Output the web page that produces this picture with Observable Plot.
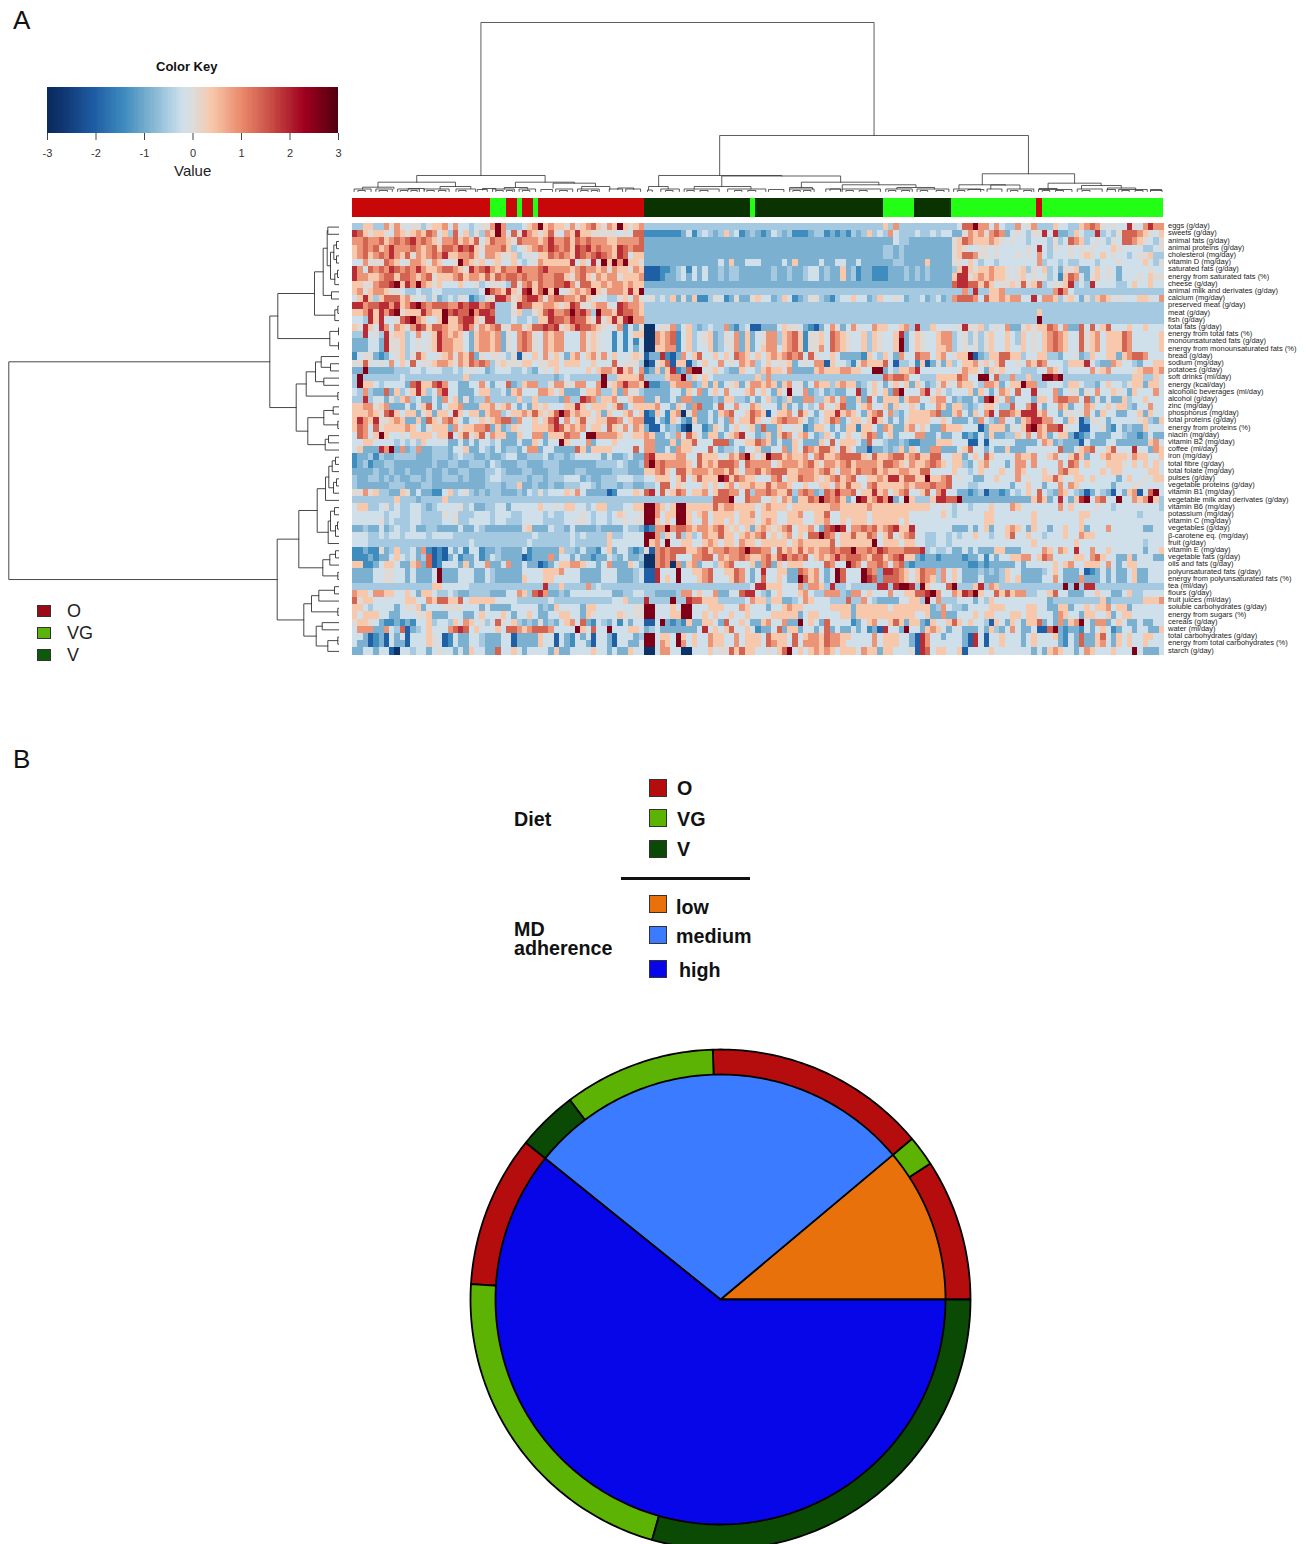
<!DOCTYPE html>
<html><head><meta charset="utf-8">
<script src="https://cdn.jsdelivr.net/npm/d3@7"></script>
<script src="https://cdn.jsdelivr.net/npm/@observablehq/plot@0.6"></script>
<style>
html,body{margin:0;padding:0;background:#fff;overflow:hidden}
#chart{position:relative;width:1306px;height:1544px;overflow:hidden;font-family:"Liberation Sans",Arial,sans-serif;color:#111}
#chart svg{overflow:hidden;background:transparent}
</style></head><body><div id="chart"></div>
<script>
const foods=["eggs (g/day)","sweets (g/day)","animal fats (g/day)","animal proteins (g/day)","cholesterol (mg/day)","vitamin D (mg/day)","saturated fats (g/day)","energy from saturated fats (%)","cheese (g/day)","animal milk and derivates (g/day)","calcium (mg/day)","preserved meat (g/day)","meat (g/day)","fish (g/day)","total fats (g/day)","energy from total fats (%)","monounsaturated fats (g/day)","energy from monounsaturated fats (%)","bread (g/day)","sodium (mg/day)","potatoes (g/day)","soft drinks (ml/day)","energy (kcal/day)","alcoholic beverages (ml/day)","alcohol (g/day)","zinc (mg/day)","phosphorus (mg/day)","total proteins (g/day)","energy from proteins (%)","niacin (mg/day)","vitamin B2 (mg/day)","coffee (ml/day)","iron (mg/day)","total fibre (g/day)","total folate (mg/day)","pulses (g/day)","vegetable proteins (g/day)","vitamin B1 (mg/day)","vegetable milk and derivates (g/day)","vitamin B6 (mg/day)","potassium (mg/day)","vitamin C (mg/day)","vegetables (g/day)","β-carotene eq. (mg/day)","fruit (g/day)","vitamin E (mg/day)","vegetable fats (g/day)","oils and fats (g/day)","polyunsaturated fats (g/day)","energy from polyunsaturated fats (%)","tea (ml/day)","flours (g/day)","fruit juices (ml/day)","soluble carbohydrates (g/day)","energy from sugars (%)","cereals (g/day)","water (ml/day)","total carbohydrates (g/day)","energy from total carbohydrates (%)","starch (g/day)"];

// Heatmap readings: one symbol per subject, O cluster | V cluster | VG cluster
const levelCodes="0123456789ab";
const levelValues=[-2.8,-2,-1.4,-0.9,-0.55,-0.2,0.05,0.4,0.9,1.4,1.9,2.6];
const heatRows=[
"44774 48686 56646 77858 55456 68b84 44578 b7877 68678 97687 b7678|44444 44444 44444 44444 44444 44444 44444 44444 44444 74844 44444 444|4599b 88585 44856 84447 55447 89865 655a6 58a88",
"a9767 76587 67879 85749 57464 87b85 96a87 67965 87a77 66666 56599|22222 22352 45434 74523 43235 43422 23442 32324 34745 48544 45445 455|33687 86898 35654 66a5a 33475 44a45 46999 87657",
"88988 97898 9a898 76889 78795 79887 69888 78a88 97989 88877 88889|33333 33333 33333 33333 33333 33333 33333 33333 33333 33544 33333 333|67987 77876 56554 55546 45987 45654 65998 76546",
"78989 78a88 89878 97998 a9a76 88897 45678 98a98 97a9a 89887 a9899|33333 33333 33333 33333 33333 33333 33333 33333 33333 44343 33333 333|67655 66565 55556 5a546 55656 56555 76555 54456",
"78978 98a87 96878 98a77 88975 88766 74565 77989 87a98 9a987 a9577|33333 33333 33333 33333 33333 33333 33333 33333 33333 44343 33333 333|67998 66565 55656 58545 55656 76575 65545 66744",
"55866 69875 68876 87556 b8767 56755 75456 87777 7a575 a6b7b 8b776|33333 33333 33335 37335 55333 35373 33353 35533 53333 33443 33373 333|66575 45545 55555 58455 45445 55455 56555 57546",
"a8598 98a98 98a87 78998 76a89 a8798 8a888 9a888 87898 87868 77687|11122 34525 35334 34433 33334 33433 45534 33734 23322 23334 34343 333|47a76 77877 65674 65745 36673 35756 53555 55655",
"a8877 89979 98789 67778 97887 97989 98988 98899 76897 68788 67778|11123 34535 35334 34433 33334 33433 45534 33734 23322 23334 34343 333|7aa67 87877 65675 65645 27985 36756 53555 65766",
"77668 99ab7 a8b87 67555 75564 56654 96897 98899 a8699 77878 87877|33333 33333 33333 33333 33333 33333 33333 33333 33333 33333 33333 333|9aa99 79756 67696 79456 67a45 4a555 54457 55755",
"78678 87665 44544 55444 44445 b987a 76ab7 9b7b5 67878 b7688 87a7b|44444 44444 44444 44444 44444 44444 44444 44444 44444 44444 44444 444|4484a 44778 44444 44448 a8544 44444 44444 44444",
"57a74 79997 86564 63454 65234 66aa8 679aa 86899 88797 65544 67586|56454 73637 22465 23633 67553 47523 46643 24557 55347 55653 44534 534|89998 59778 78855 a5887 46753 64787 56555 77658",
"aa899 aa8a7 8ab98 99988 a9aa8 9a444 6a997 78876 7a965 78865 a9887|44444 44444 44444 44444 44444 44444 44444 44444 44444 44444 44444 444|44444 44444 44444 44444 44444 44444 44444 44444",
"778a7 a8ab6 777a8 77b9a 99b8a a9444 67446 79a88 9b9a8 4b887 a9987|44444 44444 44444 44444 44444 44444 44444 44444 44444 44444 44444 444|44444 44444 44444 47444 44444 44444 44444 44444",
"554a7 a5569 ab875 57b77 9aa76 aa444 54454 77a99 8a997 6a67a 7ab88|44444 44444 44444 44444 44444 44444 44444 44444 44444 44444 44444 444|44444 44444 44444 4b444 44444 44444 44444 44444",
"76a75 a8587 68a97 99877 8a868 78966 88679 9a9a6 78a99 87656 82536|00566 83574 34544 83245 11333 57665 32135 86358 65587 75578 4a447 5|56a66 74565 83367 67798 58339 59579 55575 57555",
"44a56 4a677 45856 7a878 75378 87836 58986 58788 55586 76552 5257|00878 92574 56734 65837 35688 47897 26675 98765 57476 557a3 57655 788|45646 46755 75475 65789 87559 67857 77985 55557",
"33355 3a667 45656 7a887 75378 87836 58986 58788 55586 76552 52525|00878 92574 56734 66837 35688 47897 26675 98765 57476 557b3 57655 788|45646 46755 75475 65789 87559 67857 77985 55557",
"33355 3a667 45656 7a887 75378 87836 58986 58788 55586 76552 52535|00778 82574 55734 56837 35788 57897 26685 98765 57476 557b3 57655 778|45656 46755 75575 65789 87559 67857 77985 55557",
"25663 23567 46975 56786 87936 56654 61657 58675 37857 86857 55676|13 3a2 13857 95575 75987 57578 78989 59655 75333 32754 75385 59885 785|677b1 34779 97745 57744 35563 47557 73789 98555",
"66965 65857 59566 78876 87989 84676 66775 66775 77755 75559 56664|01679 17714 57558 56587 84575 66735 65881 75542 68777 95144 52713 637|45778 67579 55658 79855 54777 a5433 87554 35577",
"33b33 33344 45545 55445 45655 34555 44543 56575 55557 57887 a7858|23737 a2 39b b5675 43375 54787 76833 33787 77887 755bb 35477 8a555 55|56877 53767 55544 45587 54555 58678 55556 78878",
"4b444 44445 44444 44444 47444 44444 44444 44434 54444 44b44 77779|44447 88b47 57544 44444 47484 44444 44444 44444 44444 98998 55444 777|79855 bb594 48447 44bba b4444 44444 44447 74475",
"4b775 45555 39a77 9a855 33558 53559 34788 44688 66885 58b67 8a887|b2233 78883 47373 56736 88787 37856 35877 47877 34575 35757 37534 686|58775 48873 577b8 84455 54775 44357 55467 73775",
"54843 39374 57a74 58a55 33357 74453 78555 88757 33357 78447 38664|33333 55375 83575 85557 85753 75b55 83453 43355 a3575 739b5 558a5 754|55573 75358 75955 a5558 35663 65855 76537 55585",
"44a45 53647 84533 53857 36344 84444 47447 44443 844a9 84778 5578|33633 53883 33343 77443 53574 34733 88447 8583 37395 37773 78855 7885|34335 3ab75 83555 377 58 9988 59363 53374 55755",
"7 7 8 8 6 7 8 3 3 3 5 3 5 7 9 5 3 5 7 7 8 3 3 3 7 7 8 6 7 8 5 3 5 3 7 6 7 5 5 5 7 7 a 7 5 7 7 7 5 7 9 3 5 7 7|7 7 8 5 5 3 7 5 3 8 9 3 3 5 9 5 5 8 5 5 8 7 5 5 5 3 7 3 5 3 5 4 5 8 6 5 7 9 3 3 5 7 8 5 5 7 3 7 5 5 7 5 3 5 5 8 7 3|7 7 4 3 4 5 7 7 5 4 4 9 5 5 8 a 5 3 5 5 8 7 3 5 5 8 7 5 5 7 5 7 7 4 3 5 5 8 5 5",
"7 7 7 8 7 6 9 a 7 5 7 7 3 6 7 3 7 7 5 a 7 5 7 7 3 7 8 8 4 5 7 7 8 7 9 7 6 7 9 b 9 7 8 7 7 5 7 3 7 5 5 7 8 5 7|1 2 7 5 2 7 8 0 6 8 3 3 5 3 7 8 9 5 5 7 9 8 7 1 5 7 7 8 5 9 7 5 3 5 7 7 a 7 8 7 5 3 7 8 9 5 8 4 3 5 7 7 7 7 8 9 3 3|7 8 5 3 7 5 8 a 5 9 9 8 7 a a a 7 8 5 5 3 6 6 5 6 8 5 3 7 5 5 3 3 5 5 7 3 7 5 5",
"7 a 8 7 a 6 6 7 8 7 3 3 7 3 9 7 6 8 9 7 5 3 5 5 7 6 7 8 9 9 3 8 5 5 7 5 7 9 a 5 8 5 7 9 6 6 7 7 9 9 8 5 7 8 8|1 1 5 3 2 7 5 3 2 7 3 3 5 3 5 3 8 5 7 7 9 7 5 5 7 8 9 8 8 7 5 3 4 5 7 9 8 3 5 7 7 5 7 a 7 5 3 5 3 6 7 7 7 7 5 5 7 5|3 3 3 5 3 8 5 4 3 8 5 5 3 7 8 a a 8 8 5 5 3 7 6 1 3 6 6 5 3 5 5 5 5 5 6 7 4 3 7",
"7 9 8 5 9 6 7 7 7 7 8 7 5 3 6 7 7 7 3 8 6 7 7 8 8 9 3 7 3 4 7 6 5 5 7 7 7 8 a 9 7 8 7 8 5 7 7 5 9 7 6 8 5 8 7|3 1 1 5 3 4 3 1 0 5 5 2 3 7 5 3 5 7 5 6 7 3 9 3 3 7 5 5 6 6 2 3 7 7 5 3 5 3 7 7 2 7 7 5 3 8 7 3 3 7 8 5 7 5 3 3 8 7|7 7 5 5 5 1 3 7 7 7 3 6 5 7 a b 8 7 9 9 a 6 5 5 1 1 5 5 6 3 2 5 3 4 3 3 7 5 5 5",
"5 9 8 5 7 b 7 5 5 6 5 7 7 7 7 5 7 7 a 5 7 9 6 7 9 5 8 7 7 3 3 7 5 5 8 8 3 7 7 7 9 8 8 5 b b 8 8 8 8 7 5 6 7 7|8 7 3 3 5 4 8 5 9 7 5 3 7 7 3 5 7 8 a 5 5 3 4 7 3 7 9 8 5 7 8 5 3 4 7 5 3 5 7 5 5 7 9 8 3 5 7 3 5 5 5 8 8 3 3 5 3 3|5 5 2 3 2 5 3 7 3 3 4 4 7 5 8 5 8 7 3 5 7 7 3 1 2 3 5 3 3 3 5 5 4 3 3 2 3 5 3 3",
"5 5 7 7 5 5 5 5 4 5 4 5 4 7 5 5 5 5 3 3 5 3 5 3 5 5 4 5 3 3 3 5 3 3 7 5 3 5 5 b 7 5 5 5 8 3 5 5 5 7 5 5 5 5 5|8 8 3 3 3 7 3 7 7 9 5 5 5 9 9 9 3 5 5 7 7 9 8 7 3 5 3 3 7 5 3 3 3 7 5 9 5 7 7 7 5 3 9 5 5 4 3 3 4 3 2 2 3 3 3 7 7 7|5 5 5 1 1 5 1 5 5 5 5 5 3 3 3 3 5 8 7 3 4 3 3 3 1 5 3 3 3 5 5 3 3 3 3 3 3 7 8 5",
"5 7 3 3 3 a 8 b 3 8 3 4 8 3 3 4 4 4 3 5 5 7 3 3 5 4 3 5 3 4 4 3 5 8 8 3 5 5 3 3 3 3 9 7 3 7 7 7 7 5 5 5 5 9 5|8 8 3 3 5 3 8 7 7 5 5 5 9 5 3 4 4 5 3 5 5 7 3 3 5 5 8 3 7 5 9 8 7 9 9 7 5 9 7 5 3 3 1 3 3 4 3 4 7 3 7 5 3 3 8 8 3 3|3 5 7 9 5 5 3 5 3 3 7 3 3 3 5 5 5 5 5 5 9 3 3 5 7 8 9 5 5 7 9 5 5 5 a 5 5 3 8 7",
"2 3 3 4 2 4 3 3 4 4 4 4 3 3 3 4 4 4 3 4 5 4 4 3 3 4 3 3 4 5 5 3 3 4 4 4 5 3 4 4 3 4 5 5 5 5 5 3 5 3 3 4 5 3 3|9 a 7 7 7 7 8 8 5 5 9 7 7 7 5 6 8 7 9 b 7 5 7 b 9 9 7 8 7 7 8 5 8 9 7 7 8 9 9 9 9 7 6 9 7 7 8 9 9 7 8 9 7 7 9 9 5 5|7 7 3 5 7 5 9 7 5 5 5 5 8 7 7 8 5 5 7 8 5 5 7 9 7 3 5 5 7 8 7 7 7 6 8 7 7 5 5 7",
"2 3 4 2 3 3 4 4 3 3 3 3 3 3 3 4 3 3 4 4 3 3 4 4 4 3 5 4 3 3 3 4 4 3 3 3 4 4 4 3 3 3 3 3 3 3 4 4 4 4 5 4 3 3 4|9 b 8 9 8 8 8 8 7 5 9 7 8 7 9 9 9 8 5 9 8 8 8 8 5 7 8 8 8 7 8 9 7 6 8 8 7 8 9 7 8 8 8 8 7 9 9 8 7 6 8 7 7 8 9 8 7 5|7 7 4 3 5 7 8 5 5 5 3 5 8 8 5 8 5 5 5 5 8 5 9 8 5 7 5 5 5 7 7 7 6 5 7 5 7 5 7 5",
"3 3 3 3 4 3 3 4 3 3 4 3 3 3 4 3 3 4 3 3 4 4 3 3 3 4 4 5 4 3 3 3 4 4 3 3 3 4 4 3 3 3 4 4 3 3 3 3 3 4 4 4 3 3 3|7 7 8 9 7 5 9 9 7 8 8 8 7 8 8 7 9 7 5 8 8 9 7 8 9 9 9 7 7 8 8 8 7 8 9 7 5 8 8 7 9 8 8 9 7 8 7 7 8 8 7 7 9 9 5 5 5 5|7 5 5 4 5 7 5 5 5 7 5 5 8 7 5 5 5 7 5 5 8 9 7 7 5 5 5 5 7 5 7 7 5 5 5 5 5 7 7 5",
"4 3 3 4 4 3 4 3 4 3 3 4 4 3 4 3 3 4 4 4 3 4 3 3 3 4 5 5 4 4 4 4 4 3 4 4 3 4 4 4 5 5 5 3 4 3 3 4 4 4 5 5 5 4 4|5 5 7 7 7 5 7 9 5 7 9 7 7 7 b a 7 9 8 7 7 5 5 5 8 9 5 7 7 9 8 8 7 6 7 8 9 7 8 9 5 5 7 7 8 7 a a 7 9 9 7 7 b 7 7 8 9|5 6 5 5 3 3 5 5 7 5 5 5 8 5 6 5 5 7 7 9 7 5 5 7 7 5 7 5 5 5 5 3 5 7 5 5 6 5 7 7",
"4 3 3 3 3 3 3 4 4 4 3 3 3 4 4 3 3 3 3 3 3 3 3 3 3 4 4 4 3 4 4 7 3 3 4 3 3 4 3 3 4 4 4 5 5 4 3 4 4 4 3 4 4 3 3|4 4 5 9 9 5 7 6 5 5 5 7 5 7 5 7 8 5 7 7 8 7 7 9 7 8 8 7 5 5 7 5 5 7 7 5 8 7 9 7 7 5 8 9 7 7 7 7 7 8 7 8 8 8 9 8 8 9|5 5 5 4 4 5 5 5 5 5 5 3 5 5 7 5 5 3 5 5 8 5 8 7 5 5 5 5 5 5 3 5 5 5 6 6 5 5 5 5",
"6 6 8 6 7 4 4 3 3 7 6 3 5 3 3 2 2 5 7 4 5 6 4 3 4 3 4 4 3 3 3 4 3 5 4 6 4 5 5 5 7 6 8 5 3 3 3 3 1 2 5 5 5 7 6|9 a 5 9 6 7 9 8 5 7 7 8 5 7 9 9 8 8 5 9 4 8 8 9 8 7 7 9 4 8 9 8 3 4 9 8 a 8 8 9 5 7 7 a 7 8 5 7 8 9 5 5 7 9 5 8 a 5|5 3 3 2 3 4 1 3 3 2 3 5 4 5 7 5 9 5 4 3 8 7 5 4 3 1 3 5 4 3 1 5 3 7 8 1 5 9 b 5",
"4 4 4 4 4 4 4 4 7 4 4 4 3 4 4 4 4 7 4 4 4 4 4 4 4 4 4 4 4 4 4 4 4 4 4 4 4 4 4 4 4 4 4 4 4 4 4 4 4 4 4 4 4 4 4|4 4 4 4 4 4 4 4 4 4 4 4 4 9 9 9 b 5 5 9 8 8 5 5 7 5 8 7 3 7 7 9 8 b 9 8 9 7 3 5 b a 7 8 a 8 b 3 5 b 7 4 4 4 7 a a 9|9 b 3 3 3 3 3 3 3 3 3 3 3 3 3 7 9 7 3 5 a 5 3 7 a b 5 8 9 5 5 b 5 5 8 7 8 b 7 4",
"5 7 7 4 4 5 6 4 5 4 4 5 5 4 3 4 5 5 5 5 6 4 5 3 3 4 4 5 5 3 5 5 5 5 5 7 5 5 6 5 7 7 5 5 4 5 7 7 4 4 4 5 5 7 7|b b 8 7 5 7 b b 7 7 7 7 7 9 7 8 8 7 7 7 7 5 7 8 7 7 7 5 7 7 7 7 7 7 7 8 8 7 7 7 7 7 8 7 7 7 7 7 7 7 7 7 7 7 5 5 6 5|4 5 5 4 5 5 5 7 5 5 5 8 7 5 5 5 5 5 5 5 8 5 7 5 5 5 5 6 5 5 4 5 5 5 5 5 5 5 5 4",
"5 5 5 5 5 5 4 5 5 4 4 5 5 4 4 4 4 6 5 6 4 4 4 5 5 5 4 5 5 5 4 4 5 5 5 5 4 5 4 4 5 5 5 6 5 4 5 5 4 5 7 6 5 5 6|b b 8 5 7 7 b b 7 5 7 8 5 7 7 7 7 5 7 7 8 5 7 7 7 5 5 7 7 8 5 5 7 7 9 5 5 7 7 7 7 7 5 7 7 7 7 7 7 7 5 5 5 5 5 5 7 5|4 5 5 5 5 5 7 7 5 5 5 5 5 5 5 7 5 5 5 5 5 5 5 5 7 7 5 5 5 5 5 5 5 5 5 4 5 5 5 5",
"5 5 5 5 5 6 4 5 4 4 4 5 5 4 4 4 4 5 5 6 4 4 5 5 5 5 4 5 5 4 4 4 5 5 5 5 4 4 4 4 5 5 6 6 5 4 5 5 4 5 5 6 5 6 6|b b 7 5 7 5 b b 7 5 5 8 5 7 7 5 7 5 7 7 7 5 7 8 7 5 5 7 7 7 5 5 7 7 8 5 5 7 5 7 7 7 5 7 7 7 7 7 5 7 5 5 5 5 5 5 5 5|5 5 5 5 5 5 7 7 5 5 5 5 5 5 5 7 5 5 5 5 5 5 5 5 7 5 5 5 5 5 5 5 5 5 5 5 5 5 5 5",
"3 3 4 3 3 5 3 4 5 4 4 5 3 3 4 4 3 3 3 3 5 3 3 5 4 3 3 3 3 3 3 3 6 7 3 3 3 5 4 4 3 5 3 3 3 3 4 3 3 3 3 5 4 4 3|1 2 8 8 b 8 9 9 8 7 8 8 7 8 9 7 6 7 5 7 3 7 8 7 6 7 8 9 5 7 7 8 5 3 9 a b a 5 8 8 9 8 9 7 8 9 a 7 7 a 5 5 5 5 5 5 5|3 3 3 5 3 5 7 3 5 5 7 8 7 5 3 7 5 5 3 5 5 7 5 5 7 3 5 5 5 8 5 5 5 5 5 5 3 3 5 5",
"5 5 5 4 4 5 4 5 5 4 5 5 5 5 4 5 5 5 5 4 4 4 4 4 4 4 4 4 4 4 4 4 4 4 5 4 4 4 4 4 4 5 4 5 4 4 4 4 7 4 4 5 5 5 5|b b 8 4 7 5 9 4 7 4 5 8 7 7 9 7 7 5 7 8 7 8 9 5 7 5 7 8 5 7 5 9 9 b 9 8 5 7 7 9 7 7 9 8 5 7 9 5 7 8 9 5 5 4 4 5 5 4|5 4 5 5 7 5 5 4 5 5 7 9 5 5 7 5 5 4 5 5 5 7 5 5 8 7 7 5 5 5 5 5 5 5 5 5 5 5 5 5",
"5 5 5 4 4 4 4 4 4 4 4 4 4 4 4 4 4 4 4 4 4 4 5 4 4 4 4 4 4 4 4 4 4 5 4 4 4 4 4 4 4 5 4 4 4 4 4 4 7 5 5 5 5 5 5|b 7 8 5 b 5 5 7 7 5 5 7 8 7 5 7 7 5 8 7 7 5 7 7 7 7 7 5 7 8 7 7 7 7 7 9 5 7 7 7 7 7 7 b 5 7 7 7 5 7 7 5 5 4 4 5 5 4|5 5 5 5 5 5 5 5 5 5 5 5 5 5 5 7 5 5 5 5 5 5 5 7 5 5 5 5 5 5 5 5 5 5 5 5 4 5 5 5",
"2 2 3 2 2 6 3 4 7 4 4 5 3 8 2 1 2 1 5 3 5 2 5 5 2 3 3 4 3 3 3 3 5 2 3 3 3 3 3 7 4 4 3 5 3 3 2 5 7 3 5 5 3 2 3|6 1 8 9 8 9 9 9 7 7 8 9 7 8 8 9 8 8 9 b 9 9 8 8 5 9 7 8 7 9 7 8 7 8 8 9 8 9 9 b 8 8 9 8 a 9 8 8 8 9 9 9 a 4 5 4 4 5|3 3 5 3 5 3 3 3 7 7 3 3 3 5 5 5 5 8 7 5 8 7 5 a 5 5 8 5 5 7 5 5 5 5 5 5 3 5 5 7",
"2 2 2 3 2 3 3 5 7 5 4 5 3 4 9 1 2 1 3 5 2 3 3 5 2 3 5 4 3 3 3 3 1 2 3 3 3 8 3 5 5 3 5 3 3 2 3 3 5 4 3 5 3 3 4|0 0 8 9 8 9 5 5 5 8 8 9 9 5 8 7 8 8 9 8 7 7 8 9 7 9 a 8 9 8 9 5 7 8 7 8 a 8 9 9 9 8 7 9 9 7 8 9 a 7 7 3 2 3 3 2 3 3|3 3 2 3 3 5 2 5 3 5 5 7 7 8 8 5 7 9 8 5 5 5 5 7 7 5 8 9 7 5 5 3 3 7 3 5 5 5 3 3",
"7 7 2 2 3 5 7 7 5 3 3 7 8 3 9 1 2 5 5 5 3 7 3 5 5 8 3 3 5 8 3 3 5 3 3 1 2 3 5 7 7 8 8 7 5 5 3 5 8 3 3 3 7 5 3|0 0 8 9 8 0 8 3 7 8 3 5 5 4 7 8 9 5 5 5 7 3 8 9 3 7 5 7 7 7 5 5 5 5 9 8 5 5 b 9 8 5 8 8 9 8 5 8 9 3 2 3 3 3 3 3 3 3|3 3 3 2 2 3 2 3 3 3 3 3 5 3 5 5 5 5 5 7 5 7 8 5 5 7 7 7 5 8 5 3 5 7 7 5 5 5 5 5",
"3 3 3 3 5 5 6 6 5 5 3 5 3 3 3 5 b 3 3 3 5 5 5 3 3 5 4 3 3 3 3 3 5 5 5 5 7 7 7 8 5 5 5 3 3 3 3 5 5 5 3 3 3 4 5|1 1 a 5 5 5 b 5 5 7 7 8 9 5 5 7 7 9 8 5 3 5 a 5 5 7 7 3 3 9 8 7 8 5 3 5 b 9 5 5 5 b 9 8 3 a a 9 8 7 5 7 9 8 8 4 8 5|7 5 3 3 3 4 3 4 3 4 7 5 5 3 3 3 3 4 5 7 5 3 3 3 5 1 2 3 5 3 5 3 3 5 7 3 3 5 5 5",
"3 3 3 3 5 5 6 6 5 5 3 5 3 3 3 5 b 3 3 3 5 5 5 3 3 5 4 3 3 3 3 3 7 5 5 5 7 7 5 5 5 5 5 3 3 3 3 5 5 5 3 3 3 4 5|1 1 a 5 7 5 b 5 5 5 7 8 9 5 5 5 7 9 8 5 3 5 9 5 5 7 5 3 3 b 9 7 8 5 3 5 b 9 5 5 5 b a 9 3 9 9 9 8 7 5 7 9 8 7 4 8 5|7 5 3 3 3 5 3 3 3 4 7 5 7 3 3 3 3 5 5 8 5 3 3 3 8 3 3 3 5 3 5 3 3 5 7 3 3 5 5 5",
"4 4 4 4 4 4 4 4 4 4 4 4 4 4 4 7 7 5 5 5 5 5 4 4 4 4 4 4 4 4 4 4 4 4 4 4 a 4 4 7 4 4 4 4 8 4 5 4 4 4 4 4 4 4 4|4 4 4 4 4 4 4 4 4 4 4 4 4 4 4 4 4 4 4 4 5 a a 7 7 7 5 5 5 8 4 8 8 7 4 a 4 4 5 4 4 4 4 4 a a 4 a b b a 4 b 7 5 5 5 9|b 4 4 4 7 a 4 8 7 4 4 4 4 4 4 4 4 4 4 4 4 b 4 b 4 a a 4 4 4 4 4 4 4 4 4 4 4 4 4",
"8 7 7 5 8 8 7 7 5 5 7 5 3 7 7 5 4 4 5 4 3 3 4 4 4 4 3 3 3 5 5 8 7 4 9 a 8 3 3 4 3 5 5 5 5 5 5 5 5 3 3 4 4 5 5|4 4 3 3 3 3 4 8 8 5 7 5 5 8 3 3 5 5 9 a a 5 4 3 5 7 5 5 5 7 8 5 4 4 8 8 8 4 3 8 8 5 7 5 5 5 8 5 5 7 7 9 9 a b 8 5 5|8 7 a 9 b 7 5 5 9 7 9 7 8 8 4 4 5 5 7 9 5 5 3 3 3 5 5 7 5 5 3 3 5 7 4 4 5 5 5 5",
"9 6 7 7 5 5 5 5 5 5 7 7 5 5 8 7 9 9 7 7 9 5 7 7 7 7 7 5 5 5 5 4 4 4 4 4 4 5 4 4 4 4 4 4 4 4 4 4 4 5 5 7 4 4 4|a 4 4 4 4 b 4 4 a 9 9 7 7 7 4 4 4 4 4 5 8 7 7 4 7 7 3 3 4 5 8 7 5 5 5 4 4 4 9 4 4 8 5 4 3 3 3 3 5 5 7 7 4 b 5 8 4 4|4 5 5 5 3 5 4 7 5 5 5 5 5 5 5 5 5 5 3 4 4 4 4 4 4 4 4 4 7 3 4 4 4 4 4 4 7 7 7 8",
"7 7 5 4 5 5 5 5 3 5 6 6 7 3 5 5 5 6 6 6 6 5 5 5 3 5 3 3 3 3 5 5 5 5 5 3 4 3 7 5 5 5 5 3 7 7 5 5 5 5 5 5 5 6 6|b b 5 5 5 7 5 b b 5 5 5 7 7 7 5 5 5 8 7 5 5 5 3 5 5 7 8 7 7 5 5 5 5 5 7 7 7 7 3 7 7 7 7 7 7 5 7 7 7 7 7 7 7 3 4 8 5|4 4 3 5 5 5 5 7 7 7 5 5 5 5 7 7 5 5 3 3 7 7 3 5 5 7 5 7 7 8 5 7 7 3 5 5 5 5 5 5",
"7 5 7 7 7 5 5 3 3 5 5 5 6 6 7 3 3 3 5 5 5 3 3 5 7 5 5 5 7 5 3 5 5 7 5 3 3 5 5 7 7 5 5 3 7 6 5 5 5 5 7 6 5 6 6|b b 5 5 5 7 7 b b 5 5 7 5 7 5 5 7 5 5 7 5 5 5 5 7 7 7 7 7 3 5 7 7 5 5 5 5 7 7 3 7 7 7 7 7 7 7 7 7 7 7 5 5 7 3 3 8 3|3 5 5 5 7 5 7 7 5 5 5 7 7 5 7 7 5 5 5 3 8 7 5 5 3 7 7 5 5 7 3 5 7 7 5 5 5 5 5 5",
"6 7 7 6 5 3 2 2 3 2 3 2 5 5 7 4 5 5 4 7 5 8 7 5 6 4 5 9 6 5 7 4 3 4 3 6 3 4 3 5 7 8 5 9 3 2 5 4 3 5 2 5 3 5 5|1 1 5 b 3 2 3 2 7 3 3 7 7 5 3 9 5 5 7 5 3 3 7 8 5 5 8 3 3 b 5 7 5 3 9 5 5 5 5 2 3 5 7 8 5 5 7 9 7 3 7 7 3 2 7 5 5 7|9 7 5 7 5 5 4 1 7 5 3 7 5 3 7 7 9 3 5 3 8 3 7 8 b 5 3 8 8 3 5 7 5 3 3 5 3 3 5 5",
"5 8 8 8 3 3 8 5 4 9 1 3 4 5 7 5 5 5 8 9 a 9 5 7 5 5 5 7 5 9 9 8 7 8 9 9 9 8 5 5 5 5 b 7 5 9 5 5 b 5 5 5 7 7 5|3 4 5 3 3 3 3 3 3 3 5 a 5 7 5 7 9 5 5 7 5 2 3 3 5 9 3 7 7 3 5 5 3 5 9 3 5 3 3 5 3 5 2 3 1 a 5 5 3 b 5 5 3 7 8 7 5 3|5 5 3 3 3 5 3 7 4 3 5 8 5 3 3 5 1 1 9 b 3 2 3 3 2 5 3 5 7 5 2 3 5 5 3 5 5 3 3 7",
"5 5 3 1 2 3 1 5 3 5 1 5 5 5 7 6 5 1 2 5 3 3 5 5 4 3 3 3 5 5 1 3 3 3 3 7 5 5 1 5 3 2 5 3 5 1 5 5 3 1 5 5 5 3 4|b b 5 7 7 5 b 7 5 7 5 5 8 7 7 5 5 8 5 7 7 7 5 9 7 7 7 5 9 5 7 8 8 7 9 8 8 7 7 5 5 5 5 8 5 7 7 7 5 5 3 1 a 8 5 5 3 5|5 5 3 1 a 5 1 5 5 7 5 5 5 3 5 7 5 5 5 7 3 2 5 3 9 3 3 7 9 5 3 7 5 7 5 5 7 7 5 5",
"5 3 3 1 2 3 1 5 3 3 1 5 5 5 7 6 5 1 2 5 3 3 5 5 4 3 3 3 5 5 1 3 3 3 3 7 5 5 1 5 3 2 5 5 3 1 5 5 3 1 5 5 3 3 5|b b 5 8 7 5 b 8 5 7 5 5 8 7 7 5 5 8 5 7 7 7 5 9 8 7 7 5 9 5 8 8 8 7 9 8 8 7 5 5 5 5 5 8 5 7 7 7 5 5 3 1 a 8 5 5 5 5|5 5 3 1 a 5 1 5 5 7 5 5 5 3 5 7 5 5 5 5 3 2 5 3 9 3 3 7 8 5 3 7 5 7 5 5 7 5 5 5",
"3 3 5 5 3 5 5 1 0 5 5 4 5 5 3 5 6 5 5 3 5 3 7 5 5 3 3 9 5 5 7 5 3 5 5 5 5 3 7 3 3 5 5 5 5 7 5 5 3 5 3 3 7 5 5|0 0 5 8 8 5 5 0 0 5 5 5 7 5 6 6 9 7 9 7 7 5 5 6 5 7 9 b 5 7 5 7 8 7 8 7 5 7 7 7 5 8 7 7 3 7 7 5 5 5 6 1 a 9 5 7 7 5|5 7 1 5 5 5 5 7 5 5 5 5 5 5 5 3 5 3 7 8 7 5 5 3 5 8 7 5 5 5 7 5 5 5 b 5 3 3 3 5"
];

const subjects=d3.range(153);
const segOffsets=[0,55,113], segLens=[55,58,40];
const heat=[];
heatRows.forEach((line,r)=>{
  line.split("|").forEach((seg,s)=>{
    const t=seg.replace(/ /g,"");
    for(let k=0;k<segLens[s];k++){
      const code=levelCodes.indexOf(t[k]??t[t.length-1]);
      heat.push({food:foods[r],subject:segOffsets[s]+k,value:levelValues[code]});
    }
  });
});

// Colour key
const keyStops=[-3,-2.7,-2,-1.4,-1,-0.5,-0.2,0,0.4,1,1.5,2.3,3];
const keyColors=["#0a2a5c","#0f3470","#1f5fa5","#3f8cbf","#6fa9cb","#aacde2","#cfe0ea","#dcdcdc","#f8c8ac","#ea8a6c","#cf5a4c","#a0001e","#4f0010"];
const keyTicks=[-3,-2,-1,0,1,2,3];
const keySteps=d3.range(-3,3,0.05);

// Annotation bar
const barStarts=[0,26,29,31,32,34,35,55,75,76,100,106,113,129,130];
const barEnds=[26,29,31,32,34,35,55,75,76,100,106,113,129,130,153];
const barDiet=["O","VG","O","VG","O","VG","O","V","VG","V","VG","V","VG","O","VG"];
const barColors=["#c80808","#22ff14","#0a3300"];

// Column dendrogram: [col1, col2, height, height child 1, height child 2]
const topMerges=[
[24.2,98.3,169,16,56],[69.2,127.4,56,16,17.7],[12.1,36.3,16,9.3,9.3],[57.7,80.9,16,5,15.5],[69.6,92,15.5,5,9.3],[118.7,136.1,17.7,6.7,8.3],
[4.8,19.4,9.3,4.3,5],[30.7,41.8,9.3,4,8.3],[37.8,45.8,8.3,3.5,5],[1.9,7.8,4.3,2.5,2.5],[16.5,22.3,5,2.5,3],[28.6,33,4,2.5,2.5],[43.2,48.5,5,2.5,2.5],
[55.8,59.5,5,1.5,2.5],[64.4,75.1,5,2.5,2.5],[84.6,99.2,9.3,4,6.7],[92.3,106.2,6.7,2.5,4],[102.6,109.7,4,2.5,2.5],[82.4,86.7,4,2.5,2.5],
[114.3,123.1,6.7,2.5,6.5],[120.3,125.8,6.5,2.5,2.5],[131.1,141.1,8.3,3,6],[129.4,132.8,3,2,2],[137.4,144.9,6,2.5,3.5],[142.3,147.6,3.5,2,2],
[10.5,13.5,3,1.5,1.5],[24.5,27,3,1.5,1.5],[50,53,3.5,2,2],[90,92,2.5,1,1],[150.4,152.5,2,1,1],[116,119,2,1,1]
];
// Lowest brackets of the column dendrogram: [col1, col2, height]
const topTwigs=[
[0.3,3.5,2.5],[4.4,7.5,2.5],[8.5,12.6,2.5],[13.5,18.2,2.5],[19.5,23.2,2.5],[23.5,25.4,2],[26.4,30.5,2.5],[31.4,34.5,2.5],[35.5,37.7,2],[38.3,41.5,2.5],[42.4,46.5,2.5],[48.4,50.9,2.5],[51.5,54.3,2.5],[55.6,56.5,1.5],[58.1,61.6,2.5],[62.5,69.1,2.5],[70.7,77.9,2.5],[78.4,81.3,2],[82.4,87,2.5],[89.2,92,2.5],[92.3,99.5,2.5],[100.5,105.5,2.5],[106.4,112.4,2.5],[113.3,118.4,2.5],[119.6,122.4,2.5],[123.4,128.4,2.5],[129.3,135.6,2],[136.6,141.3,2.5],[142.2,143.8,2],[144.4,149.8,2],[150.4,152.6,1],
[1,2.4,1],[5,6.6,1],[9,10.4,1],[11,12.2,1],[14,15.4,1],[16.2,17.6,1],[20,21.4,1],[27,28.4,1],[29,30.2,1],[32,33.4,1],[39,40.5,1],[43,44.4,1],[45,46.2,1],[59,60.4,1],[63,64.4,1],[65.5,67,1],[72,73.4,1],[74.5,76,1],[83,84.4,1],[85,86.4,1],[93,94.4,1],[95.5,97,1],[101,102.4,1],[103.5,105,1],[107,108.4,1],[110,111.5,1],[114,115.4,1],[124,125.4,1],[126.5,128,1],[130,131.4,1],[132.5,134,1],[137.5,139,1],[145,146.4,1],[147.5,149,1]
];

// Row dendrogram: [distance, child, child], 0 = leaf, in row order
const rowTree=[330.7,
 [69.7,
  [61.7,
   [25,
    [16.3,
     [12.3,[11.7,0,0],[9,[5.7,[3,0,0],[3,0,0]],[4.7,[2,0,0],0]]],
     [8,0,0]],
    [4.7,[1.7,0,0],0]],
   [9.7,[1,0,0],[1,0,0]]],
  [43.3,
   [33.3,
    [24,[18.3,0,[9,0,0]],[15.7,0,0]],
    [1.7,0,0]],
   [31.7,
    [15.7,[6.3,0,0],[1.7,0,0]],
    [14.3,[11,0,0],0]]]],
 [62.3,
  [40.7,
   [22.3,
    [14,[10.7,[7.3,[4,0,0],0],[6,[3,0,0],0]],0],
    [11.3,[9,[5,0,0],[4,[2,0,0],0]],0]],
   [16.7,
    [9.7,[4,0,0],0],
    [1.7,0,0]]],
  [35.7,
   [28,
    [20.7,[5,0,0],0],
    [1.7,0,0]],
   [23.3,
    [17.3,0,0],
    [11.7,[1.7,0,0],0]]]]
];

// Pie: subjects per slice
const mdNames=["low","medium","high"];
const mdCounts=[17,43,93];
const ringNames=["O","VG","O","VG","V","O","VG","V"];
const ringCounts=[14,3,22,15,6,15,33,45];
const pieDomain=["O","VG","V","low","medium","high"];
const pieRange=["#b50d0d","#5cb304","#0b4a05","#e8710c","#3a7bff","#0606e8"];
const legendA=["O","VG","V"];
const legendAColors=["#9c0a18","#5cb30a","#0d5a0a"];

const chart=document.getElementById("chart");
const font="'Liberation Sans',Arial,sans-serif";
function put(node,l,t){node.style.position="absolute";node.style.left=l+"px";node.style.top=t+"px";chart.append(node);return node;}
function label(text,l,cy,size,weight,color){
  const s=document.createElement("div");s.textContent=text;
  s.style.cssText=`font-size:${size}px;font-weight:${weight||400};line-height:1;white-space:pre;transform:translateY(-50%);color:${color||"#111"}`;
  return put(s,l,cy);
}
function swatch(color,l,t,w,h,border){
  const s=document.createElement("div");
  s.style.cssText=`width:${w}px;height:${h}px;background:${color};box-sizing:border-box;border:1px solid ${border||"#333"}`;
  return put(s,l,t);
}

// Heatmap
put(Plot.plot({width:955,height:431.5,marginTop:0,marginBottom:0,marginLeft:0,marginRight:143,
  style:{fontFamily:font,background:"transparent",overflow:"visible"},
  x:{type:"band",domain:subjects,padding:0,round:false,axis:null},
  y:{type:"band",domain:foods,padding:0,round:false,label:null,axis:null},
  color:{type:"linear",domain:keyStops,range:keyColors},
  marks:[
    Plot.cell(heat,{x:"subject",y:"food",fill:"value",shapeRendering:"crispEdges",inset:0}),
    Plot.axisY({anchor:"right",tickSize:0,tickPadding:3.5,fontSize:7.5,dy:-1.2,label:null,fill:"#222"})
  ]}),351.7,222.5);

// Annotation bar
put(Plot.plot({width:811.8,height:18.7,margin:0,
  x:{domain:[0,153],axis:null},
  color:{domain:legendA,range:barColors},
  marks:[Plot.rect(barStarts,{x1:d=>d,x2:(d,i)=>barEnds[i],fill:(d,i)=>barDiet[i],shapeRendering:"crispEdges"})]}),351.7,198.3);

// Column dendrogram
const topPaths=[];
topMerges.forEach((m,i)=>{const id="m"+i;
  [[m[0],m[3]],[m[0],m[2]],[m[1],m[2]],[m[1],m[4]]].forEach(p=>topPaths.push({id,c:p[0],h:p[1]}));});
topTwigs.forEach((m,i)=>{const id="t"+i;
  [[m[0],0],[m[0],m[2]],[m[1],m[2]],[m[1],0]].forEach(p=>topPaths.push({id,c:p[0],h:p[1]}));});
put(Plot.plot({width:811.8,height:192,margin:0,
  x:{domain:[0,153],axis:null},y:{domain:[0,191],range:[191,0],axis:null},
  marks:[Plot.line(topPaths,{x:"c",y:"h",z:"id",stroke:"#333",strokeWidth:0.8})]}),351.7,0);

// Row dendrogram
const rowPaths=[];let leaf=0,nid=0;
function walk(n){
  if(!Array.isArray(n))return{r:leaf++,d:0};
  const a=walk(n[1]),b=walk(n[2]),id=nid++;
  [[a.d,a.r],[n[0],a.r],[n[0],b.r],[b.d,b.r]].forEach(p=>rowPaths.push({id,d:p[0],r:p[1]}));
  return{r:(a.r+b.r)/2,d:n[0]};
}
walk(rowTree);
put(Plot.plot({width:339,height:431.5,margin:0,
  x:{domain:[339,0],axis:null},y:{domain:[59.5,-0.5],axis:null},
  marks:[Plot.line(rowPaths,{x:"d",y:"r",z:"id",stroke:"#333",strokeWidth:0.9})]}),0,222.5);

// Colour key
put(Plot.plot({width:293,height:72,marginTop:0,marginBottom:26,marginLeft:1,marginRight:1,
  style:{fontFamily:font,background:"transparent",overflow:"visible"},
  x:{domain:[-3,3],axis:null},
  color:{type:"linear",domain:keyStops,range:keyColors},
  marks:[
    Plot.rect(keySteps,{x1:d=>d,x2:d=>d+0.05,fill:d=>d+0.025,shapeRendering:"crispEdges"}),
    Plot.axisX({ticks:keyTicks,tickFormat:d=>String(d),tickSize:7,tickPadding:9,fontSize:11,label:null,stroke:"#444",color:"#333",fill:"#333"})
  ]}),46,87);
label("Color Key",156,66,13,700);
label("Value",174,170,15,400,"#222");

// Panel letters
label("A",13,20,26,400);
label("B",13,759,26,400);

// Legend A
legendA.forEach((n,i)=>{
  swatch(legendAColors[i],37,[605,627,649][i],14,12);
  label(n,67,[611,633,655][i],18,400,"#222");
});

// Legend B
label("Diet",514,819.7,19.7,700);
label("MD",514,929.7,19.7,700);
label("adherence",514,948.7,19.7,700);
legendA.forEach((n,i)=>{
  swatch(pieRange[i],649,[779,809,840][i],18,18);
  label(n,677,[788.7,819.7,849.7][i],19.7,700);
});
mdNames.forEach((n,i)=>{
  swatch(pieRange[i+3],649,[895,926,960][i],18,18);
  label(n,[676,676,679][i],[907.7,936.7,970.7][i],19.7,700);
});
const sep=document.createElement("div");sep.style.cssText="width:129px;height:3px;background:#111";put(sep,621,877);

// Pie
function slices(names,counts,radius,prefix){
  const pts=[];let from=0;
  names.forEach((n,i)=>{
    const to=from+counts[i],id=prefix+i;
    const a0=from/153*360,a1=to/153*360;
    const stepped=d3.range(a0,a1,1).concat([a1]);
    pts.push({id,cat:n,px:0,py:0});
    stepped.forEach(a=>pts.push({id,cat:n,px:radius*Math.cos(a*Math.PI/180),py:radius*Math.sin(a*Math.PI/180)}));
    pts.push({id,cat:n,px:0,py:0});
    from=to;
  });
  return pts;
}
put(Plot.plot({width:520,height:504,margin:0,
  x:{domain:[-1.04,1.04],axis:null},y:{domain:[1.036,-0.98],range:[0,504],axis:null},
  color:{domain:pieDomain,range:pieRange},
  marks:[
    Plot.line(slices(ringNames,ringCounts,1,"r"),{x:"px",y:"py",z:"id",fill:"cat",stroke:"#000",strokeWidth:1.8,strokeLinejoin:"miter"}),
    Plot.line(slices(mdNames,mdCounts,0.9,"m"),{x:"px",y:"py",z:"id",fill:"cat",stroke:"#000",strokeWidth:1.8,strokeLinejoin:"miter"})
  ]}),459.5,1040);
</script></body></html>
